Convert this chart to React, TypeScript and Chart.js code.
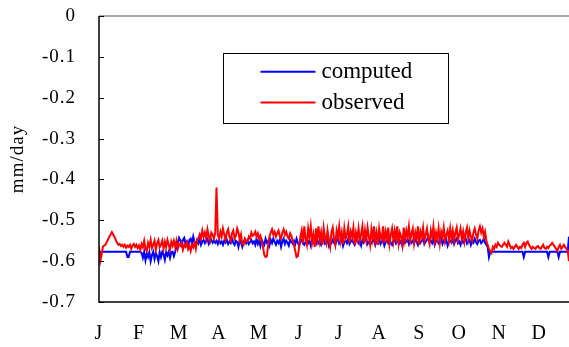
import React, { useEffect, useRef } from "react";
import { Chart, registerables } from "chart.js";

Chart.register(...registerables);

// Month tick labels and the day index at which each label sits
const monthLabels = ["J", "F", "M", "A", "M", "J", "J", "A", "S", "O", "N", "D"];
const monthLabelDays = [0, 31, 62, 93, 124, 155, 186, 217, 248, 279, 310, 341];

// Y axis ticks
const yTickValues = [0, -0.1, -0.2, -0.3, -0.4, -0.5, -0.6, -0.7];
const yTickLabels = ["0", "-0.1", "-0.2", "-0.3", "-0.4", "-0.5", "-0.6", "-0.7"];

const seriesLabels = ["computed", "observed"];

// Daily computed values (mm/day), Jan..Dec
const computed = [
  // Jan
  -0.590, -0.577, -0.577, -0.577, -0.577, -0.577, -0.577, -0.577, -0.577, -0.577,
  -0.577, -0.577, -0.577, -0.577, -0.577, -0.577, -0.577, -0.577, -0.577, -0.577,
  -0.577, -0.577, -0.590, -0.590, -0.577, -0.577, -0.577, -0.577, -0.577, -0.577, -0.577,
  // Feb
  -0.577, -0.577, -0.580, -0.592, -0.578, -0.598, -0.582, -0.590, -0.578, -0.600,
  -0.585, -0.577, -0.595, -0.580, -0.588, -0.600, -0.578, -0.590, -0.577, -0.583,
  -0.597, -0.578, -0.586, -0.577, -0.592, -0.578, -0.577, -0.588,
  // Mar
  -0.577, -0.565, -0.555, -0.543, -0.550, -0.560, -0.548, -0.543, -0.557, -0.552,
  -0.565, -0.548, -0.545, -0.558, -0.540, -0.553, -0.562, -0.548, -0.556, -0.545,
  -0.560, -0.552, -0.548, -0.556, -0.550, -0.545, -0.558, -0.552, -0.548, -0.555, -0.550,
  // Apr
  -0.555, -0.550, -0.558, -0.548, -0.556, -0.552, -0.560, -0.550, -0.555, -0.548,
  -0.558, -0.552, -0.556, -0.545, -0.555, -0.560, -0.550, -0.553, -0.565, -0.548,
  -0.555, -0.565, -0.552, -0.547, -0.556, -0.550, -0.558, -0.553, -0.548, -0.556,
  // May
  -0.552, -0.560, -0.545, -0.558, -0.550, -0.563, -0.548, -0.555, -0.560, -0.545,
  -0.555, -0.550, -0.562, -0.548, -0.556, -0.545, -0.553, -0.560, -0.550, -0.556,
  -0.548, -0.565, -0.552, -0.545, -0.558, -0.550, -0.555, -0.562, -0.548, -0.553, -0.557,
  // Jun
  -0.550, -0.558, -0.545, -0.555, -0.563, -0.550, -0.548, -0.557, -0.560, -0.552,
  -0.545, -0.556, -0.550, -0.562, -0.548, -0.555, -0.553, -0.558, -0.547, -0.556,
  -0.552, -0.560, -0.550, -0.545, -0.557, -0.553, -0.548, -0.562, -0.552, -0.556,
  // Jul
  -0.548, -0.555, -0.560, -0.550, -0.545, -0.557, -0.552, -0.548, -0.563, -0.553,
  -0.550, -0.556, -0.545, -0.558, -0.552, -0.548, -0.555, -0.560, -0.550, -0.547,
  -0.556, -0.552, -0.562, -0.548, -0.555, -0.550, -0.545, -0.558, -0.553, -0.550, -0.556,
  // Aug
  -0.552, -0.547, -0.560, -0.550, -0.555, -0.545, -0.558, -0.552, -0.548, -0.562,
  -0.553, -0.550, -0.556, -0.545, -0.555, -0.560, -0.550, -0.548, -0.557, -0.552,
  -0.545, -0.556, -0.550, -0.563, -0.548, -0.555, -0.552, -0.546, -0.558, -0.550, -0.555,
  // Sep
  -0.550, -0.557, -0.545, -0.552, -0.560, -0.548, -0.555, -0.550, -0.545, -0.558,
  -0.552, -0.548, -0.540, -0.553, -0.550, -0.556, -0.545, -0.560, -0.550, -0.548,
  -0.556, -0.552, -0.545, -0.558, -0.550, -0.555, -0.548, -0.562, -0.552, -0.550,
  // Oct
  -0.555, -0.548, -0.558, -0.550, -0.545, -0.556, -0.552, -0.560, -0.548, -0.555,
  -0.550, -0.545, -0.557, -0.552, -0.548, -0.560, -0.550, -0.555, -0.545, -0.553,
  -0.558, -0.550, -0.548, -0.556, -0.552, -0.545, -0.555, -0.560, -0.565, -0.590, -0.577,
  // Nov
  -0.577, -0.577, -0.577, -0.577, -0.577, -0.577, -0.577, -0.577, -0.577, -0.577,
  -0.577, -0.577, -0.577, -0.577, -0.577, -0.577, -0.577, -0.577, -0.577, -0.577,
  -0.577, -0.577, -0.577, -0.577, -0.577, -0.590, -0.577, -0.577, -0.577, -0.577,
  // Dec
  -0.577, -0.577, -0.577, -0.577, -0.577, -0.577, -0.577, -0.577, -0.577, -0.577,
  -0.577, -0.577, -0.577, -0.577, -0.590, -0.577, -0.577, -0.577, -0.577, -0.577,
  -0.577, -0.577, -0.590, -0.577, -0.577, -0.577, -0.577, -0.577, -0.577, -0.577, -0.540,
];

// Daily observed values (mm/day), Jan..Dec
const observed = [
  // Jan
  -0.565, -0.600, -0.585, -0.565, -0.562, -0.560, -0.553, -0.547, -0.540, -0.535,
  -0.529, -0.535, -0.541, -0.548, -0.555, -0.560, -0.558, -0.563, -0.560, -0.565,
  -0.560, -0.567, -0.562, -0.565, -0.560, -0.570, -0.562, -0.558, -0.565, -0.560, -0.568,
  // Feb
  -0.562, -0.572, -0.558, -0.566, -0.550, -0.570, -0.575, -0.555, -0.565, -0.548,
  -0.568, -0.560, -0.550, -0.572, -0.556, -0.548, -0.566, -0.560, -0.550, -0.570,
  -0.553, -0.565, -0.548, -0.560, -0.572, -0.552, -0.562, -0.550,
  // Mar
  -0.565, -0.550, -0.570, -0.558, -0.562, -0.555, -0.572, -0.560, -0.565, -0.555,
  -0.570, -0.562, -0.575, -0.560, -0.566, -0.555, -0.570, -0.548, -0.545, -0.535,
  -0.545, -0.525, -0.540, -0.530, -0.545, -0.522, -0.538, -0.550, -0.530, -0.535, -0.545,
  // Apr
  -0.530, -0.420, -0.535, -0.545, -0.528, -0.540, -0.520, -0.535, -0.548, -0.530,
  -0.522, -0.540, -0.550, -0.532, -0.525, -0.545, -0.538, -0.520, -0.530, -0.548,
  -0.535, -0.558, -0.560, -0.545, -0.550, -0.552, -0.540, -0.545, -0.530, -0.538,
  // May
  -0.535, -0.528, -0.540, -0.532, -0.545, -0.538, -0.550, -0.565, -0.585, -0.590,
  -0.588, -0.560, -0.540, -0.530, -0.522, -0.535, -0.528, -0.540, -0.532, -0.525,
  -0.538, -0.545, -0.530, -0.522, -0.535, -0.528, -0.540, -0.545, -0.532, -0.538, -0.550,
  // Jun
  -0.560, -0.575, -0.590, -0.588, -0.565, -0.540, -0.525, -0.555, -0.515, -0.545,
  -0.560, -0.520, -0.540, -0.515, -0.555, -0.535, -0.565, -0.520, -0.545, -0.515,
  -0.550, -0.530, -0.560, -0.518, -0.540, -0.555, -0.525, -0.548, -0.565, -0.530,
  // Jul
  -0.518, -0.545, -0.560, -0.525, -0.540, -0.515, -0.550, -0.530, -0.558, -0.520,
  -0.545, -0.535, -0.515, -0.555, -0.528, -0.540, -0.518, -0.560, -0.530, -0.545,
  -0.520, -0.550, -0.535, -0.515, -0.555, -0.525, -0.548, -0.518, -0.540, -0.560, -0.522,
  // Aug
  -0.545, -0.515, -0.550, -0.530, -0.560, -0.520, -0.540, -0.548, -0.515, -0.555,
  -0.528, -0.545, -0.518, -0.558, -0.535, -0.520, -0.550, -0.525, -0.545, -0.515,
  -0.555, -0.530, -0.540, -0.560, -0.518, -0.548, -0.525, -0.540, -0.515, -0.550, -0.532,
  // Sep
  -0.520, -0.555, -0.530, -0.545, -0.515, -0.560, -0.528, -0.540, -0.518, -0.550,
  -0.535, -0.520, -0.545, -0.558, -0.525, -0.540, -0.515, -0.550, -0.530, -0.545,
  -0.520, -0.555, -0.528, -0.540, -0.518, -0.550, -0.535, -0.525, -0.548, -0.520,
  // Oct
  -0.545, -0.525, -0.550, -0.530, -0.518, -0.548, -0.535, -0.520, -0.545, -0.528,
  -0.552, -0.530, -0.518, -0.545, -0.525, -0.540, -0.550, -0.530, -0.520, -0.535,
  -0.545, -0.525, -0.515, -0.530, -0.520, -0.540, -0.528, -0.550, -0.560, -0.570, -0.575,
  // Nov
  -0.580, -0.565, -0.570, -0.560, -0.565, -0.555, -0.560, -0.563, -0.565, -0.560,
  -0.555, -0.560, -0.565, -0.552, -0.560, -0.568, -0.565, -0.570, -0.565, -0.560,
  -0.565, -0.570, -0.565, -0.568, -0.560, -0.555, -0.565, -0.555, -0.552, -0.560,
  // Dec
  -0.565, -0.570, -0.565, -0.568, -0.570, -0.565, -0.563, -0.568, -0.570, -0.565,
  -0.560, -0.568, -0.570, -0.565, -0.568, -0.562, -0.560, -0.555, -0.560, -0.565,
  -0.570, -0.575, -0.565, -0.560, -0.570, -0.565, -0.560, -0.565, -0.570, -0.575, -0.600,
];

const seriesColors = ["#0000ff", "#ff0000"];
const FONT = "'Liberation Serif', 'Times New Roman', serif";

const spacingPlugin = {
  id: "axisLetterSpacing",
  beforeDraw(chart: any) {
    (chart.ctx as any).letterSpacing = "1px";
  },
  beforeDatasetsDraw(chart: any) {
    (chart.ctx as any).letterSpacing = "0px";
  },
};

const framePlugin = {
  id: "frameAndLegend",
  afterDraw(chart: any) {
    const { ctx, chartArea } = chart;
    const { left, right, top, bottom } = chartArea;
    const yScale = chart.scales.y;
    ctx.save();
    (ctx as any).letterSpacing = "0px";
    // top border (gray)
    ctx.strokeStyle = "#8a8a8a";
    ctx.lineWidth = 1.5;
    ctx.beginPath();
    ctx.moveTo(left, top);
    ctx.lineTo(right, top);
    ctx.stroke();
    // left & bottom axes
    ctx.strokeStyle = "#000";
    ctx.lineWidth = 1.5;
    ctx.beginPath();
    ctx.moveTo(left, top);
    ctx.lineTo(left, bottom);
    ctx.lineTo(right, bottom);
    ctx.stroke();
    // inward tick marks on y axis
    ctx.lineWidth = 1;
    yTickValues.forEach((v) => {
      const py = Math.round(yScale.getPixelForValue(v)) + 0.5;
      ctx.beginPath();
      ctx.moveTo(left, py);
      ctx.lineTo(left + 5, py);
      ctx.stroke();
    });
    // legend box
    const w = right - left;
    const h = bottom - top;
    const bx = Math.round(left + w * 0.264) + 0.5;
    const by = Math.round(top + h * 0.129) + 0.5;
    const bw = Math.round(w * 0.479);
    const bh = Math.round(h * 0.245);
    ctx.fillStyle = "#fff";
    ctx.fillRect(bx, by, bw, bh);
    ctx.strokeStyle = "#000";
    ctx.lineWidth = 1;
    ctx.strokeRect(bx, by, bw, bh);
    ctx.font = `23px ${FONT}`;
    ctx.textBaseline = "middle";
    ctx.textAlign = "left";
    chart.data.datasets.forEach((ds: any, i: number) => {
      const ly = by + bh * (0.26 + i * 0.44);
      ctx.strokeStyle = ds.borderColor;
      ctx.lineWidth = 2;
      ctx.beginPath();
      ctx.moveTo(bx + 37, ly);
      ctx.lineTo(bx + 92, ly);
      ctx.stroke();
      ctx.fillStyle = "#000";
      ctx.fillText(ds.label, bx + 98, ly);
    });
    ctx.restore();
  },
};

export default function App() {
  const canvasRef = useRef<HTMLCanvasElement | null>(null);

  useEffect(() => {
    const canvas = canvasRef.current;
    if (!canvas) return;
    const chart = new Chart(canvas, {
      type: "line",
      data: {
        datasets: [
          {
            label: seriesLabels[0],
            data: computed.map((v, i) => ({ x: i, y: v })),
            borderColor: seriesColors[0],
            backgroundColor: seriesColors[0],
            borderWidth: 2,
            pointRadius: 0,
            tension: 0,
            order: 2,
          },
          {
            label: seriesLabels[1],
            data: observed.map((v, i) => ({ x: i, y: v })),
            borderColor: seriesColors[1],
            backgroundColor: seriesColors[1],
            borderWidth: 2,
            pointRadius: 0,
            tension: 0,
            order: 1,
          },
        ],
      },
      options: {
        responsive: false,
        animation: false,
        devicePixelRatio: 1,
        layout: { padding: { left: 0, right: 0, top: 16, bottom: 0 } },
        plugins: {
          legend: { display: false },
          tooltip: { enabled: false },
        },
        scales: {
          x: {
            type: "linear",
            min: 0,
            max: 364,
            grid: { display: false },
            border: { display: false },
            afterBuildTicks: (scale: any) => {
              scale.ticks = monthLabelDays.map((d) => ({ value: d }));
            },
            afterFit: (scale: any) => {
              scale.height = 45;
              scale.paddingLeft = 0;
              scale.paddingRight = 0;
            },
            ticks: {
              autoSkip: false,
              maxRotation: 0,
              padding: 12,
              color: "#000",
              font: { family: FONT, size: 20 },
              callback: (_v: any, idx: number) => monthLabels[idx],
            },
          },
          y: {
            min: -0.7,
            max: 0,
            grid: { display: false },
            border: { display: false },
            afterBuildTicks: (scale: any) => {
              scale.ticks = yTickValues.map((v) => ({ value: v }));
            },
            afterFit: (scale: any) => {
              scale.width = 99;
              scale.paddingTop = 0;
              scale.paddingBottom = 0;
            },
            ticks: {
              padding: 15,
              color: "#000",
              font: { family: FONT, size: 19 },
              callback: (_v: any, idx: number) => yTickLabels[idx],
            },
            title: {
              display: true,
              text: "mm/day",
              color: "#000",
              font: { family: FONT, size: 19, weight: "normal" },
              padding: { top: 7, bottom: 0 },
            },
          },
        },
      },
      plugins: [spacingPlugin, framePlugin],
    });
    return () => chart.destroy();
  }, []);

  return (
    <div style={{ position: "absolute", left: 0, top: 0, width: 569, height: 347, background: "#fff" }}>
      <canvas ref={canvasRef} width={569} height={347} style={{ display: "block" }} />
    </div>
  );
}
